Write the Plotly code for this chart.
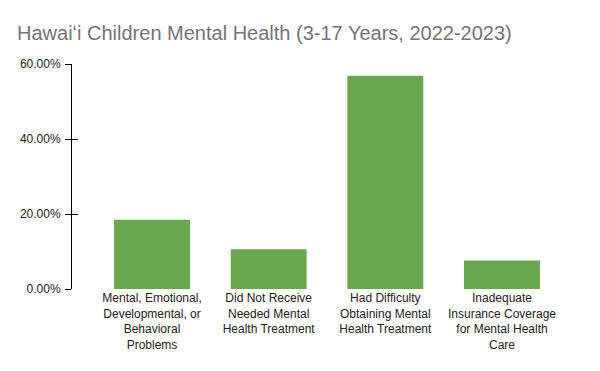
import plotly.graph_objects as go

categories = [
    "Mental, Emotional,<br>Developmental, or<br>Behavioral<br>Problems",
    "Did Not Receive<br>Needed Mental<br>Health Treatment",
    "Had Difficulty<br>Obtaining Mental<br>Health Treatment",
    "Inadequate<br>Insurance Coverage<br>for Mental Health<br>Care",
]
values = [0.185, 0.106, 0.569, 0.076]
y_ticks = [0, 0.2, 0.4, 0.6]
y_tick_labels = ["0.00%", "20.00%", "40.00%", "60.00%"]

FONT = "Arial, Liberation Sans, sans-serif"

fig = go.Figure()
fig.add_trace(go.Bar(
    x=categories, y=values,
    marker=dict(color="#6aa84f", line=dict(width=0)),
    width=0.651,
    hoverinfo="skip",
))
fig.add_trace(go.Scatter(x=[categories[0]], y=[0], yaxis="y2", mode="markers",
                         marker=dict(opacity=0), showlegend=False, hoverinfo="skip"))

fig.update_layout(
    width=600, height=371,
    margin=dict(l=72, r=18, t=64, b=82),
    paper_bgcolor="white", plot_bgcolor="white",
    showlegend=False,
    title=dict(
        text="Hawaiʻi Children Mental Health (3-17 Years, 2022-2023)",
        x=17/600, xanchor="left", y=1-33/371, yanchor="middle",
        font=dict(family=FONT, size=20, color="#757575"),
    ),
    xaxis=dict(
        type="category", range=[-0.686, 3.686],
        showline=False, showgrid=False, zeroline=False, ticks="",
        tickfont=dict(family=FONT, size=12, color="#222222"),
    ),
    yaxis=dict(
        range=[0, 0.6], tickvals=y_ticks, ticktext=y_tick_labels,
        showline=True, linecolor="#000000", linewidth=1,
        ticks="outside", ticklen=6, tickcolor="#000000", tickwidth=1,
        showgrid=False, zeroline=False,
        ticklabelstandoff=2,
        tickfont=dict(family=FONT, size=12, color="#222222"),
    ),
    yaxis2=dict(
        overlaying="y", side="left", anchor="x",
        range=[0, 0.6], tickvals=y_ticks,
        showline=False, showticklabels=False,
        ticks="inside", ticklen=6, tickcolor="#000000", tickwidth=1,
        showgrid=False, zeroline=False,
    ),
)

fig.write_html("out.html")
